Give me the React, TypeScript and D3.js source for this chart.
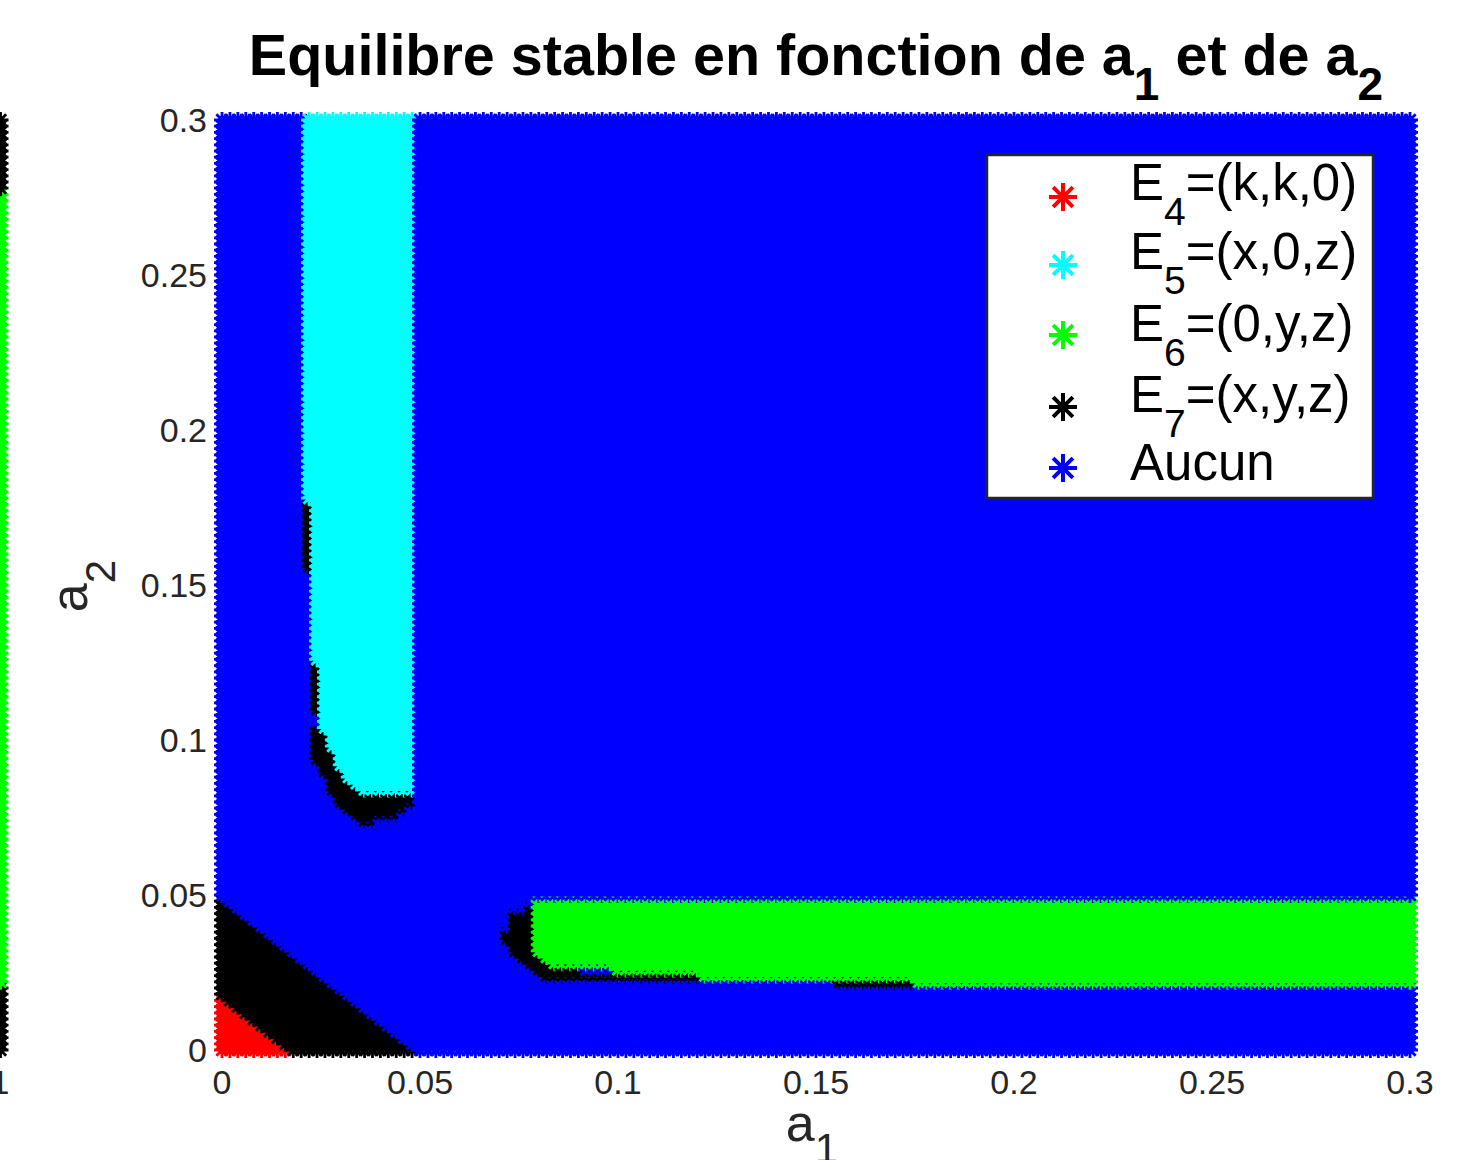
import React, { useEffect, useRef } from "react";
import * as d3 from "d3";

type Pt = [number, number];

const a1Ticks = [0, 0.05, 0.1, 0.15, 0.2, 0.25, 0.3];
const a2Ticks = [0, 0.05, 0.1, 0.15, 0.2, 0.25, 0.3];
const tickLabels = ["0", "0.05", "0.1", "0.15", "0.2", "0.25", "0.3"];

// sampling grid of (a1, a2)
const gridStep = 0.002;
const gridMax = 0.3;

const legendKeys = ["E4", "E5", "E6", "E7", "Aucun"];
const legendMain = ["E", "E", "E", "E", "Aucun"];
const legendSub = ["4", "5", "6", "7", ""];
const legendRest = ["=(k,k,0)", "=(x,0,z)", "=(0,y,z)", "=(x,y,z)", ""];
const colors: Record<string, string> = {
  E4: "#ff0000",
  E5: "#00ffff",
  E6: "#00ff00",
  E7: "#000000",
  Aucun: "#0000ff",
};

// zone outlines [a1, a2]
const zoneE5: Pt[] = [
  [0.0215, 0.3015], [0.0215, 0.178], [0.0235, 0.178], [0.0235, 0.126],
  [0.0255, 0.126], [0.0255, 0.104], [0.0275, 0.098], [0.03, 0.091],
  [0.033, 0.086], [0.036, 0.083], [0.0485, 0.083], [0.0485, 0.3015],
];
const zoneE6: Pt[] = [
  [0.0795, 0.049], [0.3015, 0.049], [0.3015, 0.021], [0.175, 0.021],
  [0.175, 0.023], [0.121, 0.023], [0.121, 0.025], [0.099, 0.025],
  [0.099, 0.027], [0.083, 0.027], [0.0795, 0.031],
];
const zoneE4: Pt[] = [[-0.001, -0.001], [-0.001, 0.0185], [0.0185, -0.001]];
const zoneE7Corner: Pt[] = [[-0.001, -0.001], [-0.001, 0.0495], [0.0495, -0.001]];
const zoneE7Hook: Pt[] = [
  [0.0235, 0.105], [0.024, 0.094], [0.027, 0.085], [0.031, 0.078],
  [0.036, 0.0735], [0.044, 0.0745], [0.0485, 0.079], [0.0485, 0.083],
  [0.036, 0.083], [0.0255, 0.105],
];
const zoneE7SpotA: Pt[] = [[0.021, 0.155], [0.023, 0.155], [0.023, 0.177], [0.021, 0.177]];
const zoneE7SpotB: Pt[] = [[0.023, 0.109], [0.025, 0.109], [0.025, 0.125], [0.023, 0.125]];
const zoneE7Nose: Pt[] = [
  [0.0715, 0.037], [0.0735, 0.044], [0.0795, 0.048], [0.0795, 0.029],
  [0.076, 0.03], [0.0725, 0.033],
];
const zoneE7Rim: Pt[] = [
  [0.076, 0.03], [0.081, 0.024], [0.099, 0.023], [0.121, 0.023],
  [0.121, 0.025], [0.099, 0.025], [0.083, 0.027], [0.0795, 0.031],
];
const zoneE7SpotC: Pt[] = [[0.155, 0.021], [0.175, 0.021], [0.175, 0.023], [0.155, 0.023]];

// first match wins
const zones: { key: string; poly: Pt[] }[] = [
  { key: "E5", poly: zoneE5 },
  { key: "E6", poly: zoneE6 },
  { key: "E4", poly: zoneE4 },
  { key: "E7", poly: zoneE7Corner },
  { key: "E7", poly: zoneE7Hook },
  { key: "E7", poly: zoneE7SpotA },
  { key: "E7", poly: zoneE7SpotB },
  { key: "E7", poly: zoneE7Nose },
  { key: "E7", poly: zoneE7Rim },
  { key: "E7", poly: zoneE7SpotC },
];

// right edge of the neighbouring subplot, cut by the picture
const leftStripBreaks = [0.021, 0.277];
const leftStripKeys = ["E7", "E6", "E7"];

const W = 1467;
const H = 1160;
const font = "'Liberation Sans', Arial, Helvetica, sans-serif";

function star(x: number, y: number, r: number) {
  const d = r * 0.7071;
  return (
    `M${x - r},${y}h${2 * r}M${x},${y - r}v${2 * r}` +
    `M${x - d},${y - d}l${2 * d},${2 * d}M${x - d},${y + d}l${2 * d},${-2 * d}`
  );
}

function classify(a1: number, a2: number) {
  for (const z of zones) {
    if (d3.polygonContains(z.poly, [a1, a2])) return z.key;
  }
  return "Aucun";
}

export default function App() {
  const ref = useRef<SVGSVGElement>(null);

  useEffect(() => {
    const svg = d3.select(ref.current);
    svg.selectAll("*").remove();

    const x = d3.scaleLinear().domain([0, 0.3]).range([222, 1410]);
    const y = d3.scaleLinear().domain([0, 0.3]).range([1050, 120]);
    const r = 8;
    const sw = 2.8;

    const steps = d3.range(0, Math.round(gridMax / gridStep) + 1).map((i) => +(i * gridStep).toFixed(4));

    // left strip (other subplot)
    const gLeft = svg.append("g");
    let run = "";
    let runKey = "";
    const flush = (g: d3.Selection<SVGGElement, unknown, null, undefined>) => {
      if (run) {
        g.append("path")
          .attr("d", run)
          .attr("fill", "none")
          .attr("stroke", colors[runKey])
          .attr("stroke-width", sw);
      }
      run = "";
    };
    steps.forEach((a2) => {
      const idx = d3.bisectRight(leftStripBreaks, a2);
      const key = leftStripKeys[idx];
      if (key !== runKey) {
        flush(gLeft);
        runKey = key;
      }
      run += star(0.5, y(a2), r);
    });
    flush(gLeft);

    // main scatter, drawn column by column
    const gMain = svg.append("g");
    runKey = "";
    steps.forEach((a1) => {
      steps.forEach((a2) => {
        const key = classify(a1, a2);
        if (key !== runKey) {
          flush(gMain);
          runKey = key;
        }
        run += star(x(a1), y(a2), r);
      });
    });
    flush(gMain);

    // tick labels
    svg
      .append("g")
      .selectAll("text")
      .data(a1Ticks)
      .join("text")
      .attr("x", (d) => x(d))
      .attr("y", 1094)
      .attr("text-anchor", "middle")
      .attr("font-family", font)
      .attr("font-size", 34)
      .attr("fill", "#262626")
      .text((d, i) => tickLabels[i]);
    svg
      .append("text")
      .attr("x", 0)
      .attr("y", 1094)
      .attr("text-anchor", "middle")
      .attr("font-family", font)
      .attr("font-size", 34)
      .attr("fill", "#262626")
      .text("1");

    svg
      .append("g")
      .selectAll("text")
      .data(a2Ticks)
      .join("text")
      .attr("x", 207)
      .attr("y", (d) => y(d) + 12)
      .attr("text-anchor", "end")
      .attr("font-family", font)
      .attr("font-size", 34)
      .attr("fill", "#262626")
      .text((d, i) => tickLabels[i]);

    // title
    const title = svg
      .append("text")
      .attr("x", 816)
      .attr("y", 75)
      .attr("text-anchor", "middle")
      .attr("font-family", font)
      .attr("font-weight", "bold")
      .attr("font-size", 57.5)
      .attr("fill", "#000");
    title.append("tspan").text("Equilibre stable en fonction de a");
    title.append("tspan").attr("dy", 25).attr("font-size", 46).text("1");
    title.append("tspan").attr("dy", -25).text(" et de a");
    title.append("tspan").attr("dy", 25).attr("font-size", 46).text("2");

    // axis labels
    const xl = svg
      .append("text")
      .attr("x", 812)
      .attr("y", 1141)
      .attr("text-anchor", "middle")
      .attr("font-family", font)
      .attr("font-size", 52)
      .attr("fill", "#262626");
    xl.append("tspan").text("a");
    xl.append("tspan").attr("dy", 22).attr("font-size", 42).text("1");

    const yl = svg
      .append("text")
      .attr("transform", "translate(87,586) rotate(-90)")
      .attr("text-anchor", "middle")
      .attr("font-family", font)
      .attr("font-size", 52)
      .attr("fill", "#262626");
    yl.append("tspan").text("a");
    yl.append("tspan").attr("dy", 28).attr("font-size", 42).text("2");

    // legend
    const lg = svg.append("g");
    lg.append("rect")
      .attr("x", 987)
      .attr("y", 155)
      .attr("width", 386)
      .attr("height", 343)
      .attr("fill", "#fff")
      .attr("stroke", "#262626")
      .attr("stroke-width", 2.5);
    const baselines = [200, 269, 341, 412, 480];
    const markerY = [197, 265, 335, 407, 468];
    legendKeys.forEach((k, i) => {
      lg.append("path")
        .attr("d", star(1063, markerY[i], 14))
        .attr("fill", "none")
        .attr("stroke", colors[k])
        .attr("stroke-width", 4);
      const t = lg
        .append("text")
        .attr("x", 1130)
        .attr("y", baselines[i])
        .attr("font-family", font)
        .attr("font-size", 51)
        .attr("fill", "#000");
      t.append("tspan").text(legendMain[i]);
      if (legendSub[i]) {
        t.append("tspan").attr("dy", 25).attr("font-size", 39).text(legendSub[i]);
        t.append("tspan").attr("dy", -25).text(legendRest[i]);
      }
    });
  }, []);

  return (
    <div style={{ position: "absolute", left: 0, top: 0, background: "#fff" }}>
      <svg ref={ref} width={W} height={H} style={{ display: "block" }} />
    </div>
  );
}
